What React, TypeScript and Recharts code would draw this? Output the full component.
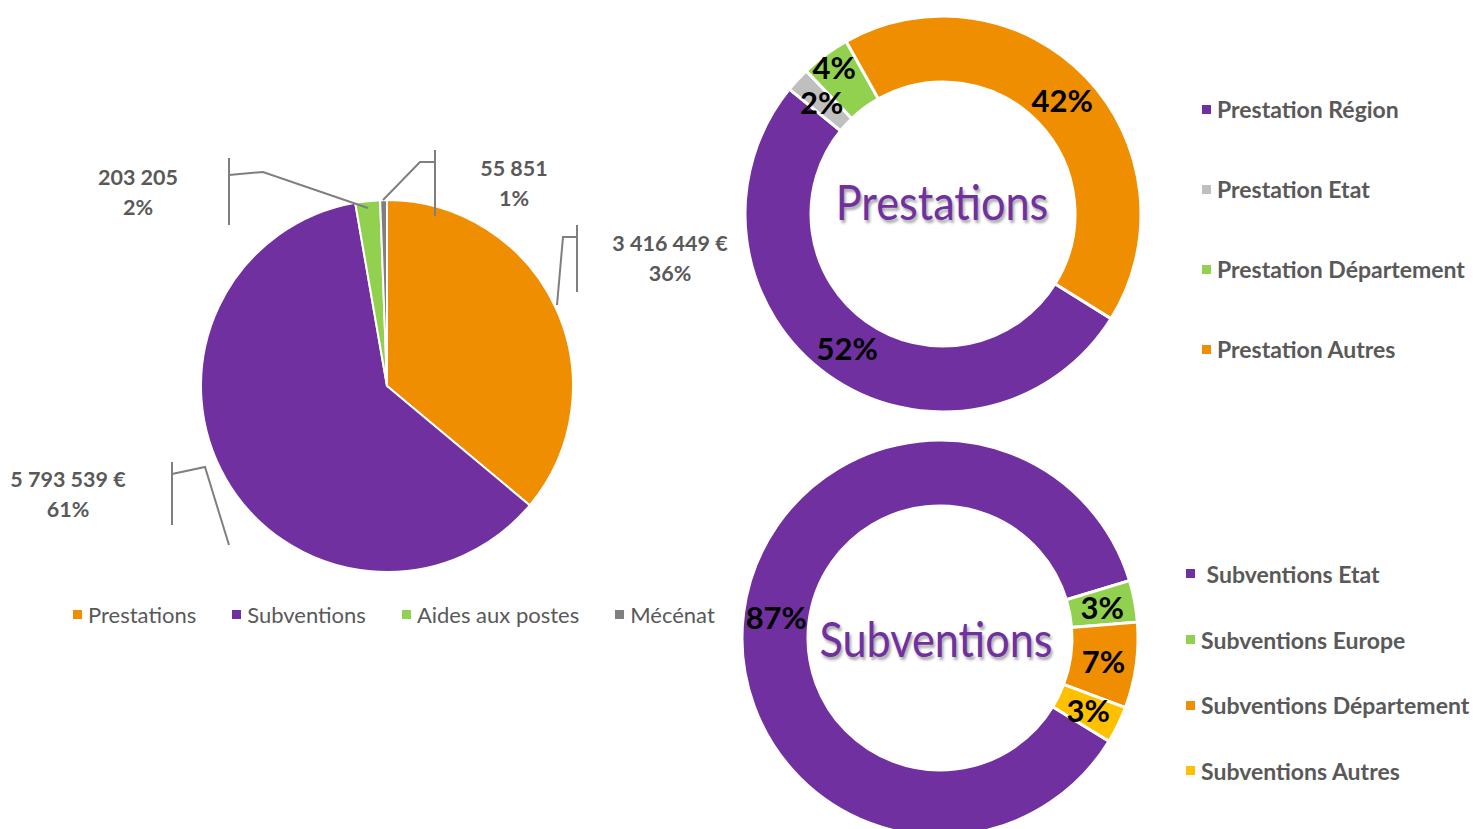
import React from "react";
import { PieChart, Pie, Cell, Legend } from "recharts";

// overall split
const mainCategories = ["Prestations", "Subventions", "Aides aux postes", "Mécénat"];
const mainValues = [3416449, 5793539, 203205, 55851];
const mainSuffix = [" €", " €", "", ""];
const mainColors = ["#EE8E00", "#7030A0", "#92D050", "#7F7F7F"];

// prestations detail (%)
const prestationCategories = ["Prestation Région", "Prestation Etat", "Prestation Département", "Prestation Autres"];
const prestationShares = [52, 2, 4, 42];
const prestationColors = ["#7030A0", "#BFBFBF", "#92D050", "#EE8E00"];

// subventions detail (%)
const subventionCategories = [" Subventions Etat", "Subventions Europe", "Subventions Département", "Subventions Autres"];
const subventionShares = [86.6, 3.4, 7.0, 3.0];
const subventionColors = ["#7030A0", "#92D050", "#EE8E00", "#FFC000"];

const FONT = "Lato, 'Open Sans', sans-serif";
const GREY_TEXT = "#595959";
const RAD = Math.PI / 180;
const NO_MARGIN = { top: 0, right: 0, bottom: 0, left: 0 };

// label + leader layout for the big pie, offsets from pie centre
const mainLabelLayout = [
  { tx: 283, ty: -128, bar: [190, -161, -94], path: [[190, -149], [176, -149], [170, -81]] },
  { tx: -319, ty: 108, bar: [-215, 76, 139], path: [[-215, 88], [-182, 81], [-158, 159]] },
  { tx: -249, ty: -194, bar: [-158, -228, -161], path: [[-158, -211], [-124, -214], [-19, -178]] },
  { tx: 127, ty: -203, bar: [48, -236, -170], path: [[48, -224], [33, -224], [-4, -186]] },
];

const fmt = (n: number) => String(n).replace(/\B(?=(\d{3})+(?!\d))/g, " ");

const toData = (names: string[], values: number[]) => names.map((name, i) => ({ name, value: values[i] }));

const inOrder = (payload: any[], order: string[]) =>
  [...(payload || [])].sort((a, b) => order.indexOf(a.value) - order.indexOf(b.value));

const renderMainLabel = (props: any) => {
  const { cx, cy, index, value, percent } = props;
  const l = mainLabelLayout[index];
  const pts = l.path.map(([x, y]) => `${cx + x},${cy + y}`).join(" ");
  return (
    <g>
      <line x1={cx + l.bar[0]} y1={cy + l.bar[1]} x2={cx + l.bar[0]} y2={cy + l.bar[2]} stroke="#7F7F7F" strokeWidth={2} />
      <polyline points={pts} fill="none" stroke="#7F7F7F" strokeWidth={2} />
      <text x={cx + l.tx} y={cy + l.ty} textAnchor="middle" fontFamily={FONT} fontWeight={700} fontSize={21.5} fill={GREY_TEXT}>
        <tspan x={cx + l.tx} dy={-7}>{fmt(value) + mainSuffix[index]}</tspan>
        <tspan x={cx + l.tx} dy={30}>{Math.max(1, Math.round(percent * 100)) + "%"}</tspan>
      </text>
    </g>
  );
};

const makeDonutLabel = (nudge: Record<number, number>) => (props: any) => {
  const { cx, cy, midAngle, innerRadius, outerRadius, percent, index } = props;
  const r = (innerRadius + outerRadius) / 2 + (nudge[index] || 0);
  const x = cx + r * Math.cos(-midAngle * RAD);
  const y = cy + r * Math.sin(-midAngle * RAD);
  return (
    <text x={x} y={y} textAnchor="middle" dominantBaseline="central" fontFamily={FONT} fontWeight={700} fontSize={31} fill="#000">
      {Math.round(percent * 100) + "%"}
    </text>
  );
};

const MainLegend = ({ payload }: any) => (
  <div style={{ display: "flex", fontFamily: FONT, fontSize: 22, color: GREY_TEXT }}>
    {inOrder(payload, mainCategories).map((p: any) => (
      <div key={p.value} style={{ display: "flex", alignItems: "center", marginRight: 36 }}>
        <span style={{ width: 9, height: 9, background: p.color, marginRight: 6, display: "inline-block" }} />
        {p.value}
      </div>
    ))}
  </div>
);

const SideLegend = (step: number, order: string[]) => ({ payload }: any) => (
  <div style={{ fontFamily: FONT, fontSize: 23, fontWeight: 700, color: GREY_TEXT }}>
    {inOrder(payload, order).map((p: any) => (
      <div key={p.value} style={{ display: "flex", alignItems: "center", height: step, whiteSpace: "pre" }}>
        <span style={{ width: 9, height: 9, background: p.color, marginRight: 6, display: "inline-block" }} />
        {p.value}
      </div>
    ))}
  </div>
);

const titleStyle: React.CSSProperties = {
  position: "absolute",
  fontFamily: FONT,
  fontSize: 48,
  color: "#7030A0",
  textShadow: "2px 3px 3px rgba(0,0,0,0.35)",
  transform: "translate(-50%, -50%) scaleX(0.9)",
  whiteSpace: "nowrap",
};

export default function App() {
  const mainData = toData(mainCategories, mainValues);
  const prestData = toData(prestationCategories, prestationShares);
  const subData = toData(subventionCategories, subventionShares);
  return (
    <div style={{ position: "absolute", left: 0, top: 0, width: 1478, height: 829, background: "#fff", overflow: "hidden" }}>
      <div style={{ position: "absolute", left: 0, top: 0 }}>
        <PieChart width={740} height={829} margin={NO_MARGIN}>
          <Pie data={mainData} dataKey="value" nameKey="name" cx={387} cy={386} outerRadius={186}
            startAngle={90} endAngle={-270} stroke="#fff" strokeWidth={2}
            label={renderMainLabel} labelLine={false} isAnimationActive={false}>
            {mainData.map((d, i) => <Cell key={d.name} fill={mainColors[i]} />)}
          </Pie>
          <Legend content={MainLegend} wrapperStyle={{ left: 73, top: 601, width: 700, bottom: "auto" }} />
        </PieChart>
      </div>

      <div style={{ position: "absolute", left: 740, top: 0 }}>
        <PieChart width={738} height={420} margin={NO_MARGIN}>
          <Pie data={prestData} dataKey="value" nameKey="name" cx={203} cy={214} innerRadius={132} outerRadius={198}
            startAngle={90 - 121.9} endAngle={90 - 121.9 - 360} stroke="#fff" strokeWidth={3}
            label={makeDonutLabel({ 2: 18 })} labelLine={false} isAnimationActive={false}>
            {prestData.map((d, i) => <Cell key={d.name} fill={prestationColors[i]} />)}
          </Pie>
          <Legend content={SideLegend(80, prestationCategories)} wrapperStyle={{ left: 462, top: 69, width: 276, bottom: "auto" }} />
        </PieChart>
        <div style={{ ...titleStyle, left: 202, top: 201 }}>Prestations</div>
      </div>

      <div style={{ position: "absolute", left: 740, top: 420 }}>
        <PieChart width={738} height={409} margin={NO_MARGIN}>
          <Pie data={subData} dataKey="value" nameKey="name" cx={200} cy={218} innerRadius={132} outerRadius={198}
            startAngle={90 - 121.4} endAngle={90 - 121.4 - 360} stroke="#fff" strokeWidth={3}
            label={makeDonutLabel({})} labelLine={false} isAnimationActive={false}>
            {subData.map((d, i) => <Cell key={d.name} fill={subventionColors[i]} />)}
          </Pie>
          <Legend content={SideLegend(65.7, subventionCategories)} wrapperStyle={{ left: 446, top: 121, width: 292, bottom: "auto" }} />
        </PieChart>
        <div style={{ ...titleStyle, left: 196, top: 218 }}>Subventions</div>
      </div>
    </div>
  );
}
